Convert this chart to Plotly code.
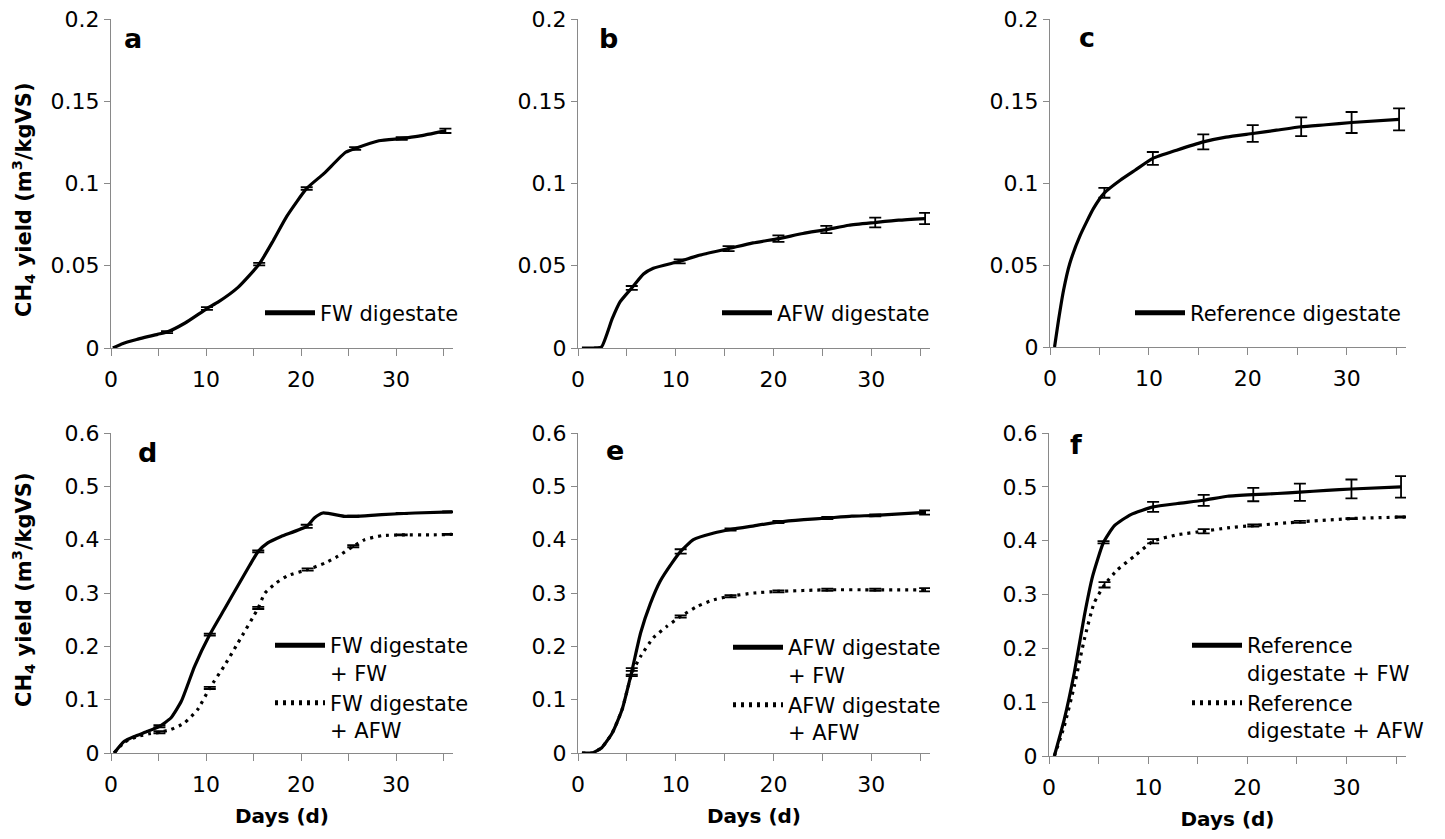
import plotly.graph_objects as go

# ---------------- data ----------------
# panel a : FW digestate
days_a = [0.2, 1.2, 2.6, 4.9, 5.9, 7.8, 10.1, 11.3, 13.4, 15.6, 17.1, 18.5, 20.6, 22.4, 24.7, 25.7, 28.2, 30.6, 32.4, 35.2]
yield_a = [0, 0.0026, 0.005, 0.0083, 0.0097, 0.0152, 0.024, 0.028, 0.037, 0.051, 0.0655, 0.080, 0.097, 0.106, 0.119, 0.1213, 0.126, 0.1274, 0.1288, 0.132]
err_days_a = [5.9, 10.1, 15.6, 20.6, 25.7, 30.6, 35.2]
err_mean_a = [0.0097, 0.024, 0.051, 0.097, 0.1213, 0.1274, 0.132]
err_sd_a = [0.0006, 0.0008, 0.0008, 0.0008, 0.0008, 0.0008, 0.0013]

# panel b : AFW digestate
days_b = [0.4, 1.6, 2.4, 3.5, 4.3, 5.5, 6.7, 7.7, 10.4, 12.4, 15.4, 17.9, 20.5, 23.0, 25.4, 27.7, 30.4, 32.8, 35.5]
yield_b = [0, 0, 0.0006, 0.0178, 0.028, 0.0365, 0.045, 0.0485, 0.0527, 0.0564, 0.0604, 0.0639, 0.0665, 0.0696, 0.072, 0.0746, 0.0763, 0.0777, 0.0787]
err_days_b = [5.5, 10.4, 15.4, 20.5, 25.4, 30.4, 35.5]
err_mean_b = [0.0365, 0.0527, 0.0604, 0.0665, 0.072, 0.0763, 0.0787]
err_sd_b = [0.0012, 0.0012, 0.0015, 0.002, 0.0022, 0.003, 0.0034]

# panel c : Reference digestate
days_c = [0.46, 0.86, 1.37, 2.0, 3.05, 4.4, 5.5, 7.1, 8.6, 10.4, 12.8, 15.5, 17.8, 20.5, 22.9, 25.4, 27.9, 30.5, 35.3]
yield_c = [0, 0.0163, 0.0346, 0.0509, 0.068, 0.0845, 0.094, 0.1017, 0.1078, 0.115, 0.12, 0.1251, 0.128, 0.1302, 0.1322, 0.1343, 0.1355, 0.1369, 0.1388]
err_days_c = [5.5, 10.4, 15.5, 20.5, 25.4, 30.5, 35.3]
err_mean_c = [0.094, 0.115, 0.1251, 0.1302, 0.1343, 0.1369, 0.1388]
err_sd_c = [0.003, 0.0039, 0.0046, 0.0051, 0.0057, 0.0064, 0.0067]

# panel d : FW digestate + FW / + AFW
days_d_fw = [0.33, 1.4, 2.45, 3.86, 5.1, 6.3, 7.4, 8.8, 10.4, 11.95, 13.4, 14.6, 15.5, 16.5, 17.9, 20.6, 21.4, 22.3, 24.6, 25.7, 28.5, 32.0, 35.9]
yield_d_fw = [0, 0.0219, 0.031, 0.0406, 0.05, 0.0656, 0.0969, 0.1625, 0.222, 0.27, 0.315, 0.352, 0.378, 0.394, 0.406, 0.425, 0.4406, 0.45, 0.4438, 0.4438, 0.447, 0.45, 0.452]
err_days_d_fw = [5.1, 10.4, 15.5, 20.6, 25.5, 30.6, 35.5]
err_mean_d_fw = [0.05, 0.222, 0.378, 0.425, 0.4438, 0.449, 0.452]
err_sd_d_fw = [0.002, 0.002, 0.002, 0.003, 0.001, 0.001, 0.001]

days_d_afw = [0.33, 1.4, 2.8, 4.0, 5.1, 6.3, 7.7, 9.1, 10.4, 11.9, 13.35, 15.5, 16.2, 17.4, 18.6, 20.7, 22.5, 23.9, 25.5, 26.7, 28.5, 30.6, 33.8, 35.9]
yield_d_afw = [0, 0.02, 0.031, 0.036, 0.0388, 0.044, 0.056, 0.081, 0.122, 0.1625, 0.206, 0.272, 0.30, 0.319, 0.3325, 0.344, 0.356, 0.369, 0.3875, 0.40, 0.4075, 0.409, 0.409, 0.41]
err_days_d_afw = [5.1, 10.4, 15.5, 20.7, 25.5, 30.6, 35.5]
err_mean_d_afw = [0.0388, 0.122, 0.272, 0.344, 0.3875, 0.409, 0.41]
err_sd_d_afw = [0.002, 0.002, 0.002, 0.002, 0.002, 0.001, 0.001]

# panel e : AFW digestate + FW / + AFW
days_e_fw = [0.4, 1.4, 2.4, 3.5, 4.5, 5.5, 6.4, 7.4, 8.4, 9.6, 10.5, 11.8, 13.9, 15.6, 18.0, 20.5, 23.1, 25.5, 28.0, 30.4, 35.5]
yield_e_fw = [0, 0, 0.0094, 0.0375, 0.081, 0.153, 0.225, 0.28, 0.322, 0.356, 0.378, 0.40, 0.4125, 0.419, 0.426, 0.433, 0.4375, 0.4406, 0.444, 0.4456, 0.451]
err_days_e_fw = [5.5, 10.5, 15.6, 20.5, 25.5, 30.4, 35.5]
err_mean_e_fw = [0.153, 0.378, 0.419, 0.433, 0.4406, 0.4456, 0.451]
err_sd_e_fw = [0.006, 0.004, 0.002, 0.002, 0.002, 0.002, 0.004]

days_e_afw = [0.4, 1.4, 2.4, 3.5, 4.5, 5.5, 6.4, 7.7, 9.1, 10.5, 12.2, 13.9, 15.6, 18.0, 20.5, 25.5, 30.4, 35.5]
yield_e_afw = [0, 0, 0.0094, 0.0375, 0.081, 0.149, 0.181, 0.216, 0.2375, 0.256, 0.275, 0.2875, 0.294, 0.30, 0.303, 0.306, 0.306, 0.306]
err_days_e_afw = [5.5, 10.5, 15.6, 20.5, 25.5, 30.4, 35.5]
err_mean_e_afw = [0.149, 0.256, 0.294, 0.303, 0.306, 0.306, 0.306]
err_sd_e_afw = [0.005, 0.002, 0.002, 0.002, 0.002, 0.002, 0.003]

# panel f : Reference digestate + FW / + AFW
days_f_fw = [0.54, 1.54, 2.55, 3.56, 4.4, 5.5, 6.6, 8.25, 10.5, 12.95, 15.6, 18.0, 20.6, 23.0, 25.3, 28.0, 30.5, 35.5]
yield_f_fw = [0, 0.068, 0.1546, 0.26, 0.334, 0.397, 0.428, 0.4485, 0.4627, 0.469, 0.475, 0.4825, 0.4856, 0.4876, 0.49, 0.4936, 0.496, 0.4998]
err_days_f_fw = [5.5, 10.5, 15.6, 20.6, 25.3, 30.5, 35.5]
err_mean_f_fw = [0.397, 0.4627, 0.475, 0.4856, 0.49, 0.496, 0.4998]
err_sd_f_fw = [0.002, 0.0093, 0.0102, 0.0124, 0.016, 0.0176, 0.02]

days_f_afw = [0.54, 1.54, 2.55, 3.56, 4.56, 5.6, 6.9, 8.6, 10.5, 12.95, 15.6, 18.0, 20.6, 25.3, 30.5, 35.9]
yield_f_afw = [0, 0.0557, 0.13, 0.2165, 0.2845, 0.318, 0.346, 0.371, 0.399, 0.411, 0.4175, 0.4237, 0.428, 0.4349, 0.441, 0.444]
err_days_f_afw = [5.6, 10.5, 15.6, 20.6, 25.3, 30.5, 35.5]
err_mean_f_afw = [0.318, 0.399, 0.4175, 0.428, 0.4349, 0.441, 0.444]
err_sd_f_afw = [0.005, 0.004, 0.004, 0.002, 0.002, 0.001, 0.001]

panel_letters = ["a", "b", "c", "d", "e", "f"]
x_ticks = [0, 10, 20, 30]
y_ticks_top = [0, 0.05, 0.1, 0.15, 0.2]
y_ticks_bottom = [0, 0.1, 0.2, 0.3, 0.4, 0.5, 0.6]
y_title = "CH<sub>4</sub> yield (m<sup>3</sup>/kgVS)"
x_title = "Days (d)"

# ---------------- layout geometry (page pixels) ----------------
W, H = 1445, 839
OFF = 8  # default body margin of the html page
FONT = "DejaVu Sans"
AXIS_GREY = "#898989"
LEG_ITEM_W = 50

def fx(px):
    return (px - OFF) / W

def fy(py):
    return 1 - (py - OFF) / H

# (x0px, x1px, ytop px, ybottom px)
boxes = [
    (111, 453, 19, 348),
    (578, 930, 19, 348),
    (1050, 1406, 19, 347),
    (111, 453, 433, 753),
    (578, 930, 433, 753),
    (1049, 1406, 433, 756),
]

fig = go.Figure()

SOLID = dict(color="black", width=3.2, shape="spline", smoothing=0.5)
DOT = dict(color="black", width=3.2, dash="3px,5px", shape="spline", smoothing=0.5)

def add_series(idx, days, vals, edays, emean, esd, name, line, legend):
    ax = "" if idx == 0 else str(idx + 1)
    fig.add_trace(go.Scatter(
        x=days, y=vals, mode="lines", name=name, line=line,
        xaxis="x" + ax, yaxis="y" + ax, legend=legend, hoverinfo="skip"))
    fig.add_trace(go.Scatter(
        x=edays, y=emean, mode="markers", showlegend=False,
        marker=dict(size=1, color="rgba(0,0,0,0)"),
        error_y=dict(type="data", array=esd, visible=True, color="black",
                     thickness=1.8, width=6),
        xaxis="x" + ax, yaxis="y" + ax, hoverinfo="skip"))

add_series(0, days_a, yield_a, err_days_a, err_mean_a, err_sd_a, "FW digestate", SOLID, "legend")
add_series(1, days_b, yield_b, err_days_b, err_mean_b, err_sd_b, "AFW digestate", SOLID, "legend2")
add_series(2, days_c, yield_c, err_days_c, err_mean_c, err_sd_c, "Reference digestate", SOLID, "legend3")
add_series(3, days_d_fw, yield_d_fw, err_days_d_fw, err_mean_d_fw, err_sd_d_fw, "FW digestate<br>+ FW", SOLID, "legend4")
add_series(3, days_d_afw, yield_d_afw, err_days_d_afw, err_mean_d_afw, err_sd_d_afw, "FW digestate<br>+ AFW", DOT, "legend4")
add_series(4, days_e_fw, yield_e_fw, err_days_e_fw, err_mean_e_fw, err_sd_e_fw, "AFW digestate<br>+ FW", SOLID, "legend5")
add_series(4, days_e_afw, yield_e_afw, err_days_e_afw, err_mean_e_afw, err_sd_e_afw, "AFW digestate<br>+ AFW", DOT, "legend5")
add_series(5, days_f_fw, yield_f_fw, err_days_f_fw, err_mean_f_fw, err_sd_f_fw, "Reference<br>digestate + FW", SOLID, "legend6")
add_series(5, days_f_afw, yield_f_afw, err_days_f_afw, err_mean_f_afw, err_sd_f_afw, "Reference<br>digestate + AFW", DOT, "legend6")

layout = dict(
    width=W, height=H, margin=dict(l=0, r=0, t=0, b=0, autoexpand=False),
    paper_bgcolor="white", plot_bgcolor="white",
    font=dict(family=FONT, size=22, color="black"),
    showlegend=True,
)

for i, (x0, x1, yt, yb) in enumerate(boxes):
    ax = "" if i == 0 else str(i + 1)
    top = i < 3
    xa = dict(
        domain=[fx(x0), fx(x1)], range=[0, 36], anchor="y" + ax,
        tickvals=x_ticks, ticks="outside", ticklen=7, tickwidth=1, tickcolor=AXIS_GREY,
        minor=dict(dtick=5, tick0=0, ticks="outside", ticklen=7, tickwidth=1, tickcolor=AXIS_GREY, showgrid=False),
        showline=True, linecolor=AXIS_GREY, linewidth=1.2,
        showgrid=False, zeroline=False, tickfont=dict(size=22, family=FONT),
        ticklabelstandoff=4, automargin=False, ticklabeloverflow="allow",
    )
    if not top:
        xa["title"] = dict(text="<b>" + x_title + "</b>", font=dict(size=20, family=FONT), standoff=13)
    ya = dict(
        domain=[fy(yb), fy(yt)], range=[0, 0.2 if top else 0.6], anchor="x" + ax,
        tickvals=y_ticks_top if top else y_ticks_bottom,
        ticks="outside", ticklen=6, tickwidth=1, tickcolor=AXIS_GREY,
        showline=True, linecolor=AXIS_GREY, linewidth=1.2,
        showgrid=False, zeroline=False, tickfont=dict(size=22, family=FONT),
        automargin=False, ticklabeloverflow="allow",
    )
    layout["xaxis" + ax] = xa
    layout["yaxis" + ax] = ya

# legends (inside each panel); x = where the legend text starts
leg_pos = [(320, 313), (777, 313), (1190, 313), (330, 688), (788, 690), (1247, 688)]
for i, (tx, ly) in enumerate(leg_pos):
    key = "legend" if i == 0 else "legend" + str(i + 1)
    layout[key] = dict(
        x=fx(tx - 40 - (LEG_ITEM_W - 30)), y=fy(ly), xanchor="left", yanchor="middle",
        bgcolor="rgba(255,255,255,0)", borderwidth=0,
        font=dict(size=21, family=FONT, color="black"),
        valign="top", tracegroupgap=4, itemsizing="constant", itemwidth=LEG_ITEM_W,
    )

annotations = []
# panel letters
letter_pos = [(133, 39), (608, 39), (1087, 38), (147, 452), (615, 450), (1076, 444)]
for letter, (px, py) in zip(panel_letters, letter_pos):
    annotations.append(dict(
        text="<b>" + letter + "</b>", x=fx(px), y=fy(py), xref="paper", yref="paper",
        showarrow=False, xanchor="center", yanchor="middle",
        font=dict(size=27, family=FONT, color="black")))
# y-axis titles (left column only)
for py in (200, 590):
    annotations.append(dict(
        text="<b>" + y_title + "</b>", x=fx(23), y=fy(py), xref="paper", yref="paper",
        showarrow=False, xanchor="center", yanchor="middle", textangle=-90,
        font=dict(size=21, family=FONT, color="black")))
layout["annotations"] = annotations

fig.update_layout(**layout)
fig.write_html("out.html")
